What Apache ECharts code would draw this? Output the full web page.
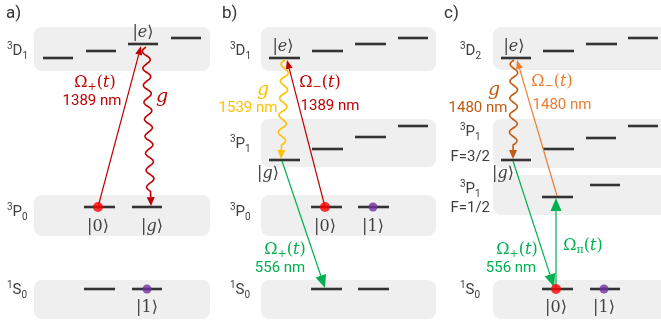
<!DOCTYPE html>
<html><head><meta charset="utf-8">
<script src="https://cdn.jsdelivr.net/npm/echarts@6/dist/echarts.min.js"></script>
<style>html,body{margin:0;padding:0;background:#fff}#c{width:661px;height:326px}</style>
</head><body><div id="c"></div>
<script>
// ---------------- data (diagram coordinates) ----------------
const panelLabels = [['a)', 6, 14], ['b)', 222, 14], ['c)', 444, 14]];

// shaded manifolds: [x0, y0, x1, y1]
const boxes = [
  [34, 27, 210, 71], [34, 195, 210, 236], [34, 280, 210, 319],
  [261, 27, 436, 71], [261, 119, 436, 167], [261, 195, 436, 236], [261, 280, 436, 319],
  [493, 27, 672, 70], [493, 119, 672, 168], [493, 175, 672, 215], [493, 280, 672, 319]
];

// sublevels: [x0, x1, y]
const levels = [
  [43, 73, 58], [86, 116, 51], [128, 158, 44], [171, 201, 38],
  [84, 115, 207], [132, 162, 207],
  [84, 115, 289], [132, 162, 289],
  [269, 300, 58], [312, 343, 51], [355, 386, 44], [398, 428, 38],
  [269, 300, 160], [312, 343, 149], [355, 386, 137], [398, 428, 126],
  [311, 342, 207], [358, 389, 207],
  [311, 342, 289], [358, 389, 289],
  [501, 531, 58], [543, 574, 51], [586, 617, 44], [628, 658, 38],
  [501, 531, 160], [543, 574, 149], [586, 616, 138], [628, 658, 126],
  [542, 573, 197], [590, 620, 185],
  [542, 573, 289], [590, 620, 289]
];

const redDots = [[98, 207], [325, 207], [556, 289]];
const purpleDots = [[147, 289], [373, 207], [604, 289]];

// term symbols: [sup, letter, sub, x, y]
const termSymbols = [
  ['3', 'D', '1', 7, 51], ['3', 'P', '0', 7, 212], ['1', 'S', '0', 7, 290],
  ['3', 'D', '1', 230, 51], ['3', 'P', '1', 230, 144], ['3', 'P', '0', 230, 212], ['1', 'S', '0', 230, 290],
  ['3', 'D', '2', 460, 51], ['3', 'P', '1', 460, 132], ['3', 'P', '1', 460, 189], ['1', 'S', '0', 460, 290]
];
const hyperfineLabels = [['F=3/2', 490, 157], ['F=1/2', 490, 208]];

// kets: [content, x, y]
const kets = [
  ['e', 143, 33], ['0', 98, 227], ['g', 152, 227], ['1', 147, 308],
  ['e', 283, 47], ['g', 268, 174], ['0', 325, 227], ['1', 373, 227],
  ['e', 514, 47], ['g', 503, 174], ['0', 556, 308], ['1', 604, 308]
];

// laser couplings: [x0, y0, x1, y1, colour, head]
const laserArrows = [
  [98, 207, 141, 46, 'red', 'small'],
  [325, 207, 287, 60, 'red', 'small'],
  [282, 161, 325, 288, 'green', 'big'],
  [557, 196, 517, 60, 'orange', 'small'],
  [513, 161, 554, 287, 'green', 'big'],
  [556, 289, 556, 198, 'green', 'big']
];
// cavity couplings (wavy): [x0, y0, x1, y1, colour]
const cavityArrows = [
  [146, 47, 151, 206, 'red'],
  [285, 60, 281, 159, 'gold'],
  [514, 60, 513, 159, 'brown']
];

// Rabi labels: [subscript, x, y, colour]
const rabiLabels = [
  ['+', 95, 83, 'red'], ['\u2212', 320, 83, 'red'], ['+', 285, 250, 'green'],
  ['\u2212', 552, 82, 'orange'], ['+', 517, 250, 'green'], ['\u03c0', 583, 246, 'green']
];
// [text, x, y, colour]
const wavelengthLabels = [
  ['1389 nm', 92, 101, 'red'], ['1539 nm', 248, 108, 'gold'], ['1389 nm', 330, 106, 'red'],
  ['556 nm', 280, 268, 'green'], ['1480 nm', 478, 108, 'brown'], ['1480 nm', 562, 105, 'orange'],
  ['556 nm', 511, 268, 'green']
];
const couplingLabels = [['g', 162, 97, 'red'], ['g', 263, 90, 'gold'], ['g', 494, 90, 'brown']];

// ---------------- styles ----------------
const COLORS = {red: '#c00000', green: '#00b050', gold: '#ffc000', brown: '#c55a11', orange: '#ed7d31'};
const HEADS = {small: [9, 7], big: [13, 11]};
const SANS = 'Roboto, "Noto Sans", sans-serif';
const SERIF = '"DejaVu Serif", "Liberation Serif", serif';
const TEXT = '#404040';

function pos(arr, i, j) { return arr.map(r => [r[i], r[j]]); }

function arrowHead(p1, u, hl, hw, color) {
  const n = [-u[1], u[0]];
  const b = [p1[0] - u[0] * hl, p1[1] - u[1] * hl];
  return {
    type: 'polygon',
    shape: {points: [p1, [b[0] + n[0] * hw / 2, b[1] + n[1] * hw / 2], [b[0] - n[0] * hw / 2, b[1] - n[1] * hw / 2]]},
    style: {fill: color}
  };
}

const chart = echarts.init(document.getElementById('c'), null, {renderer: 'canvas'});
chart.setOption({
  animation: false,
  grid: {left: 0, right: 0, top: 0, bottom: 0},
  xAxis: {type: 'value', min: 0, max: 661, show: false},
  yAxis: {type: 'value', min: 0, max: 326, inverse: true, show: false},
  series: [
    { // manifolds
      type: 'custom', z: 1, silent: true,
      data: boxes,
      renderItem: (params, api) => {
        const a = api.coord([api.value(0), api.value(1)]);
        const b = api.coord([api.value(2), api.value(3)]);
        return {type: 'rect', shape: {x: a[0], y: a[1], width: b[0] - a[0], height: b[1] - a[1], r: 8},
          style: {fill: '#efefef'}};
      }
    },
    { // levels
      type: 'custom', z: 2, silent: true,
      data: levels,
      renderItem: (params, api) => {
        const a = api.coord([api.value(0), api.value(2)]);
        const b = api.coord([api.value(1), api.value(2)]);
        return {type: 'line', shape: {x1: a[0], y1: a[1], x2: b[0], y2: b[1]},
          style: {stroke: '#333333', lineWidth: 2.6}};
      }
    },
    { // straight laser arrows
      type: 'custom', z: 3, silent: true,
      data: laserArrows.map(r => r.slice(0, 4)),
      renderItem: (params, api) => {
        const src = laserArrows[params.dataIndex];
        const color = COLORS[src[4]];
        const [hl, hw] = HEADS[src[5]];
        const p0 = api.coord([api.value(0), api.value(1)]);
        const p1 = api.coord([api.value(2), api.value(3)]);
        const L = Math.hypot(p1[0] - p0[0], p1[1] - p0[1]);
        const u = [(p1[0] - p0[0]) / L, (p1[1] - p0[1]) / L];
        const base = [p1[0] - u[0] * hl, p1[1] - u[1] * hl];
        return {type: 'group', children: [
          {type: 'line', shape: {x1: p0[0], y1: p0[1], x2: base[0], y2: base[1]}, style: {stroke: color, lineWidth: 1.2}},
          arrowHead(p1, u, hl, hw, color)
        ]};
      }
    },
    { // wavy cavity arrows
      type: 'custom', z: 3, silent: true,
      data: cavityArrows.map(r => r.slice(0, 4)),
      renderItem: (params, api) => {
        const src = cavityArrows[params.dataIndex];
        const color = COLORS[src[4]];
        const hl = 9, hw = 8, lambda = 17, amp = 3.8;
        const p0 = api.coord([api.value(0), api.value(1)]);
        const p1 = api.coord([api.value(2), api.value(3)]);
        const L = Math.hypot(p1[0] - p0[0], p1[1] - p0[1]);
        const u = [(p1[0] - p0[0]) / L, (p1[1] - p0[1]) / L];
        const n = [-u[1], u[0]];
        const waveLen = Math.floor((L - hl - 4) / (lambda / 2)) * (lambda / 2);
        const pts = [];
        for (let s = 0; s <= waveLen; s += 0.5) {
          const off = amp * Math.sin(2 * Math.PI * s / lambda);
          pts.push([p0[0] + u[0] * s + n[0] * off, p0[1] + u[1] * s + n[1] * off]);
        }
        const base = [p1[0] - u[0] * hl, p1[1] - u[1] * hl];
        pts.push(base);
        return {type: 'group', children: [
          {type: 'polyline', shape: {points: pts}, style: {stroke: color, lineWidth: 1.6, fill: null}},
          arrowHead(p1, u, hl, hw, color)
        ]};
      }
    },
    {type: 'scatter', z: 4, silent: true, data: redDots, symbolSize: 10, itemStyle: {color: '#ff0000'}},
    {type: 'scatter', z: 4, silent: true, data: purpleDots, symbolSize: 9, itemStyle: {color: '#7030a0'}},
    { // term symbols
      type: 'custom', z: 5, silent: true,
      data: pos(termSymbols, 3, 4),
      renderItem: (params, api) => {
        const s = termSymbols[params.dataIndex];
        const p = api.coord([api.value(0), api.value(1)]);
        return {type: 'text', x: p[0], y: p[1], style: {
          text: '{p|' + s[0] + '}{m|' + s[1] + '}{b|' + s[2] + '}', align: 'left', verticalAlign: 'middle',
          fill: TEXT,
          rich: {
            p: {fontFamily: SANS, fontSize: 10, lineHeight: 12, verticalAlign: 'top', fill: TEXT},
            m: {fontFamily: SANS, fontSize: 15, lineHeight: 20, fill: TEXT},
            b: {fontFamily: SANS, fontSize: 10, lineHeight: 13, verticalAlign: 'bottom', fill: TEXT}
          }}};
      }
    },
    { // F labels
      type: 'custom', z: 5, silent: true,
      data: pos(hyperfineLabels, 1, 2),
      renderItem: (params, api) => {
        const p = api.coord([api.value(0), api.value(1)]);
        return {type: 'text', x: p[0], y: p[1], style: {text: hyperfineLabels[params.dataIndex][0],
          align: 'right', verticalAlign: 'middle', fill: TEXT, font: '15px ' + SANS}};
      }
    },
    { // panel labels
      type: 'custom', z: 5, silent: true,
      data: pos(panelLabels, 1, 2),
      renderItem: (params, api) => {
        const p = api.coord([api.value(0), api.value(1)]);
        return {type: 'text', x: p[0], y: p[1], style: {text: panelLabels[params.dataIndex][0],
          align: 'left', verticalAlign: 'middle', fill: '#333333', font: '17px ' + SANS}};
      }
    },
    { // kets
      type: 'custom', z: 5, silent: true,
      data: pos(kets, 1, 2),
      renderItem: (params, api) => {
        const k = kets[params.dataIndex][0];
        const italic = (k === 'e' || k === 'g');
        const p = api.coord([api.value(0), api.value(1)]);
        return {type: 'text', x: p[0], y: p[1], style: {
          text: '{k||}{' + (italic ? 'i' : 'k') + '|' + k + '}{k|\u27e9}', align: 'center', verticalAlign: 'middle',
          rich: {
            k: {fontFamily: SERIF, fontSize: 16, fill: TEXT, lineHeight: 19},
            i: {fontFamily: SERIF, fontSize: 16, fontStyle: 'italic', fill: TEXT, lineHeight: 19}
          }}};
      }
    },
    { // Rabi labels
      type: 'custom', z: 5, silent: true,
      data: pos(rabiLabels, 1, 2),
      renderItem: (params, api) => {
        const r = rabiLabels[params.dataIndex];
        const c = COLORS[r[3]];
        const p = api.coord([api.value(0), api.value(1)]);
        return {type: 'text', x: p[0], y: p[1], style: {
          text: '{o|\u03a9}{s|' + r[0] + '}{o|(}{i|t}{o|)}', align: 'center', verticalAlign: 'middle',
          rich: {
            o: {fontFamily: SERIF, fontSize: 16, fill: c, lineHeight: 20},
            i: {fontFamily: SERIF, fontSize: 16, fontStyle: 'italic', fill: c, lineHeight: 20},
            s: {fontFamily: SERIF, fontSize: 11, fill: c, lineHeight: 12, verticalAlign: 'bottom'}
          }}};
      }
    },
    { // wavelength labels
      type: 'custom', z: 5, silent: true,
      data: pos(wavelengthLabels, 1, 2),
      renderItem: (params, api) => {
        const r = wavelengthLabels[params.dataIndex];
        const p = api.coord([api.value(0), api.value(1)]);
        return {type: 'text', x: p[0], y: p[1], style: {text: r[0], align: 'center', verticalAlign: 'middle',
          fill: COLORS[r[3]], font: '15px ' + SANS}};
      }
    },
    { // coupling g labels
      type: 'custom', z: 5, silent: true,
      data: pos(couplingLabels, 1, 2),
      renderItem: (params, api) => {
        const r = couplingLabels[params.dataIndex];
        const p = api.coord([api.value(0), api.value(1)]);
        return {type: 'text', x: p[0], y: p[1], style: {text: r[0], align: 'center', verticalAlign: 'middle',
          fill: COLORS[r[3]], font: 'italic 19px ' + SERIF}};
      }
    }
  ]
});
</script></body></html>
